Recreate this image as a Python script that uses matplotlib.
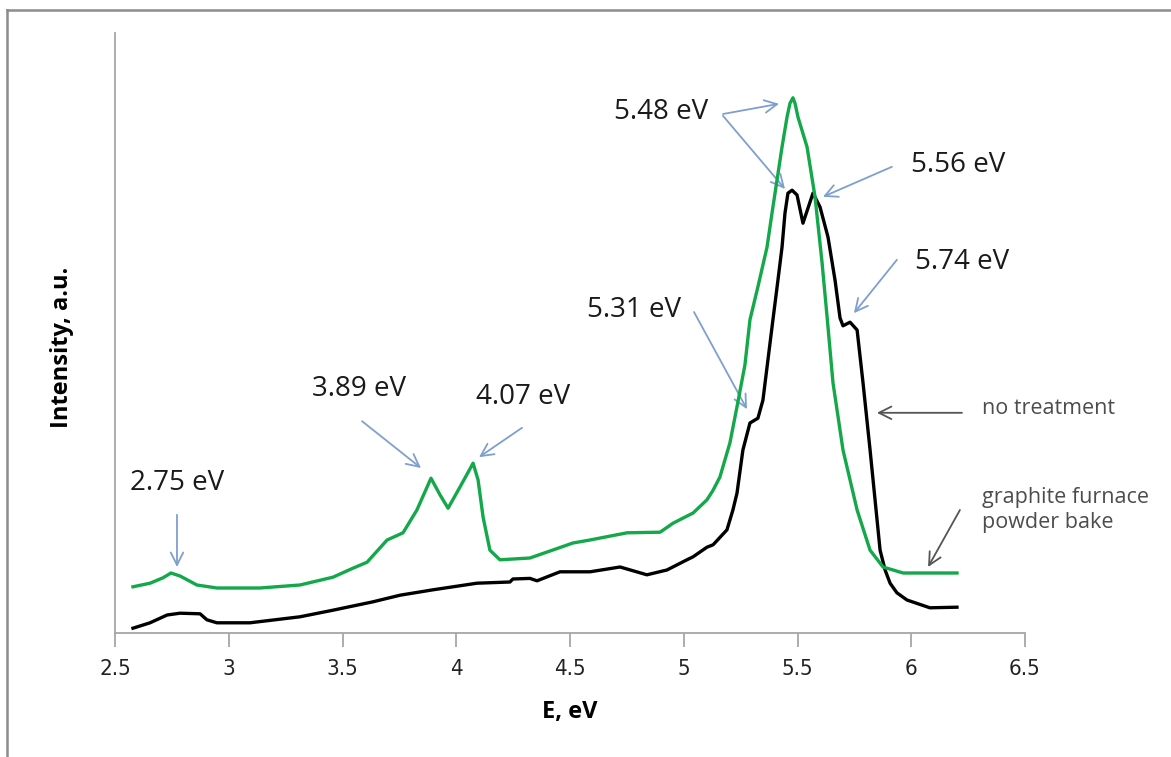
import matplotlib
matplotlib.use("Agg")
import matplotlib.pyplot as plt
from matplotlib.lines import Line2D

# ---- data (E in eV, intensity in a.u.) ----
green_E = [2.579, 2.654, 2.711, 2.746, 2.786, 2.860, 2.948, 3.137, 3.313, 3.458,
           3.546, 3.608, 3.696, 3.766, 3.827, 3.889, 3.929, 3.964, 4.016, 4.074,
           4.096, 4.118, 4.148, 4.192, 4.324, 4.513, 4.588, 4.751, 4.896, 4.953,
           5.041, 5.102, 5.129, 5.159, 5.203, 5.234, 5.269, 5.291, 5.326, 5.366,
           5.388, 5.410, 5.432, 5.454, 5.467, 5.480, 5.489, 5.502, 5.542, 5.577,
           5.608, 5.630, 5.656, 5.700, 5.762, 5.819, 5.876, 5.964, 6.201]
green_I = [0.077, 0.083, 0.092, 0.100, 0.095, 0.080, 0.075, 0.075, 0.080, 0.093,
           0.108, 0.118, 0.155, 0.167, 0.205, 0.258, 0.230, 0.208, 0.243, 0.283,
           0.255, 0.193, 0.138, 0.122, 0.125, 0.150, 0.155, 0.167, 0.168, 0.183,
           0.200, 0.222, 0.238, 0.260, 0.317, 0.377, 0.447, 0.522, 0.577, 0.643,
           0.700, 0.755, 0.810, 0.860, 0.883, 0.892, 0.883, 0.860, 0.810, 0.727,
           0.617, 0.527, 0.417, 0.305, 0.205, 0.138, 0.110, 0.100, 0.100]

black_E = [2.579, 2.654, 2.729, 2.786, 2.874, 2.904, 2.948, 3.093, 3.313, 3.458,
           3.634, 3.753, 3.898, 4.091, 4.236, 4.249, 4.324, 4.355, 4.456, 4.588,
           4.720, 4.838, 4.926, 5.014, 5.041, 5.102, 5.129, 5.190, 5.216, 5.234,
           5.260, 5.291, 5.326, 5.348, 5.392, 5.414, 5.432, 5.445, 5.458, 5.476,
           5.498, 5.524, 5.568, 5.599, 5.634, 5.665, 5.687, 5.700, 5.731, 5.762,
           5.788, 5.819, 5.863, 5.885, 5.907, 5.937, 5.981, 6.082, 6.201]
black_I = [0.008, 0.017, 0.030, 0.033, 0.032, 0.022, 0.017, 0.017, 0.027, 0.038,
           0.052, 0.063, 0.072, 0.083, 0.085, 0.090, 0.091, 0.087, 0.102, 0.102,
           0.110, 0.097, 0.105, 0.122, 0.127, 0.143, 0.147, 0.172, 0.205, 0.233,
           0.305, 0.350, 0.358, 0.388, 0.522, 0.588, 0.643, 0.700, 0.733, 0.738,
           0.730, 0.683, 0.733, 0.710, 0.660, 0.588, 0.525, 0.512, 0.518, 0.505,
           0.417, 0.305, 0.138, 0.105, 0.083, 0.067, 0.055, 0.042, 0.043]

x_ticks = [2.5, 3, 3.5, 4, 4.5, 5, 5.5, 6, 6.5]
x_tick_labels = ["2.5", "3", "3.5", "4", "4.5", "5", "5.5", "6", "6.5"]

peak_labels = ["2.75 eV", "3.89 eV", "4.07 eV", "5.31 eV", "5.48 eV", "5.56 eV", "5.74 eV"]
peak_label_pos = [(2.566, 0.250), (3.366, 0.407), (4.087, 0.393), (4.575, 0.538),
                  (4.693, 0.868), (6.000, 0.780), (6.016, 0.618)]
blue_arrows = [((2.7725, 0.197), (2.7725, 0.110)),
               ((3.586, 0.353), (3.845, 0.275)),
               ((4.289, 0.342), (4.100, 0.293)),
               ((5.045, 0.535), (5.278, 0.373)),
               ((5.1725, 0.865), (5.419, 0.882)),
               ((5.1725, 0.862), (5.445, 0.740)),
               ((5.915, 0.777), (5.612, 0.727)),
               ((5.937, 0.622), (5.748, 0.533))]
series_labels = ["no treatment", "graphite furnace\npowder bake"]
series_label_pos = [(6.311, 0.375), (6.311, 0.205)]
gray_arrows = [((6.223, 0.367), (5.849, 0.367)),
               ((6.214, 0.205), (6.074, 0.110))]

# ---- figure ----
W, H = 1171, 757
fig = plt.figure(figsize=(W / 100, H / 100), dpi=100)
fig.patch.set_facecolor("white")
ax = fig.add_axes([115 / W, 1 - 633 / H, 910 / W, 600 / H])

ax.plot(black_E, black_I, color="black", lw=2.4, solid_joinstyle="round", zorder=3)
ax.plot(green_E, green_I, color="#13a84a", lw=2.4, solid_joinstyle="round", zorder=4)

ax.set_xlim(2.5, 6.5)
ax.set_ylim(0, 1.0)
ax.set_xticks(x_ticks)
ax.set_xticklabels(x_tick_labels, family="DejaVu Sans", fontstretch="condensed",
                   fontsize=16, color="#222222")
ax.set_yticks([])
for s in ["top", "right"]:
    ax.spines[s].set_visible(False)
for s in ["left", "bottom"]:
    ax.spines[s].set_color("#a6a6a6")
    ax.spines[s].set_linewidth(1.3)
ax.tick_params(axis="x", direction="out", length=10, width=1.3, color="#a6a6a6", pad=9)

ax.set_xlabel("E, eV", fontsize=17, fontweight="bold", family="Open Sans", labelpad=15)
fig.text(62 / W, 1 - 347 / H, "Intensity, a.u.", rotation=90, fontsize=17,
         fontweight="bold", family="Open Sans", ha="center", va="center")

for lab, (x, y) in zip(peak_labels, peak_label_pos):
    ax.text(x, y, lab, fontsize=20, family="Open Sans", color="#1a1a1a",
            ha="left", va="center")
for start, tip in blue_arrows:
    ax.annotate("", xy=tip, xytext=start, annotation_clip=False,
                arrowprops=dict(arrowstyle="->,head_length=0.9,head_width=0.45",
                                color="#7f9fd0", lw=1.3, shrinkA=0, shrinkB=0))
for lab, (x, y) in zip(series_labels, series_label_pos):
    ax.text(x, y, lab, fontsize=15.5, family="Open Sans", color="#4d4d4d",
            ha="left", va="center", linespacing=1.25)
for start, tip in gray_arrows:
    ax.annotate("", xy=tip, xytext=start, annotation_clip=False,
                arrowprops=dict(arrowstyle="->,head_length=0.9,head_width=0.45",
                                color="#555555", lw=1.3, shrinkA=0, shrinkB=0))

# outer frame (top and left edges visible)
fig.add_artist(Line2D([7 / W, 7 / W], [0, 1 - 10 / H], transform=fig.transFigure,
                      color="#8c8c8c", lw=1.8))
fig.add_artist(Line2D([7 / W, 1], [1 - 10 / H, 1 - 10 / H], transform=fig.transFigure,
                      color="#8c8c8c", lw=1.8))

fig.savefig("out.png", dpi=100)
